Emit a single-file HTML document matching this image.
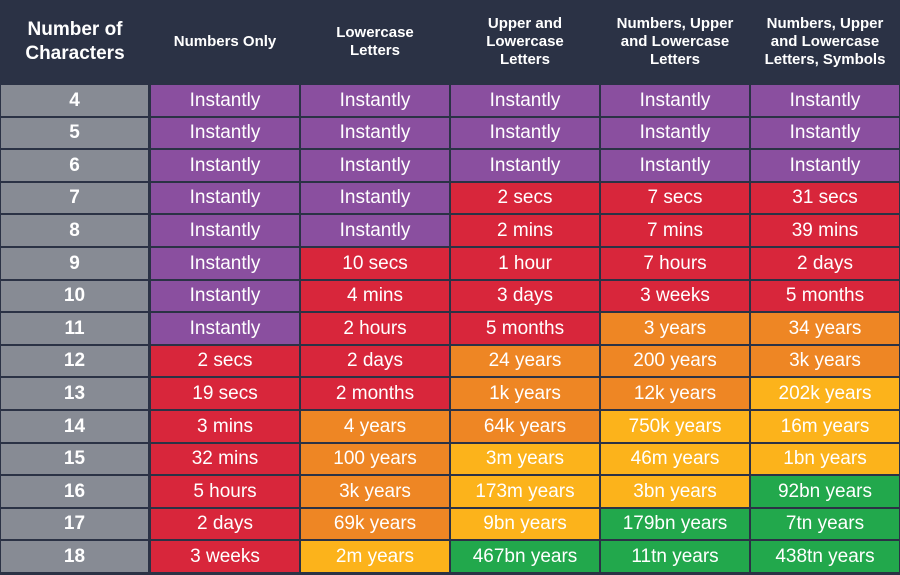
<!DOCTYPE html>
<html><head><meta charset="utf-8"><style>
body{margin:0;background:#2b3245;width:900px;height:575px;overflow:hidden;font-family:"Liberation Sans",sans-serif}
.g{position:absolute;left:0;top:0;width:900px;height:575px}
.h{position:absolute;top:0;height:84px;color:#fff;font-weight:bold;display:flex;align-items:center;justify-content:center;text-align:center;font-size:15px;line-height:18px}
.c{position:absolute;display:flex;align-items:center;justify-content:center;color:#fff;font-size:19px;box-sizing:border-box}
.n{background:#878b94;font-weight:bold}
.P{background:#8a4f9f}.R{background:#d8263b}.O{background:#ee8624}.Y{background:#fcb31b}.G{background:#22a84c}
</style></head><body><div class="g" id="g">
<div class="h" style="left:0;width:150px;font-size:19px;line-height:24px">Number of<br>Characters</div>
<div class="h" style="left:150px;width:150px">Numbers Only</div>
<div class="h" style="left:300px;width:150px">Lowercase<br>Letters</div>
<div class="h" style="left:450px;width:150px">Upper and<br>Lowercase<br>Letters</div>
<div class="h" style="left:600px;width:150px">Numbers, Upper<br>and Lowercase<br>Letters</div>
<div class="h" style="left:750px;width:150px">Numbers, Upper<br>and Lowercase<br>Letters, Symbols</div>
</div>
<script>
var d=[
[4,"P:Instantly","P:Instantly","P:Instantly","P:Instantly","P:Instantly"],
[5,"P:Instantly","P:Instantly","P:Instantly","P:Instantly","P:Instantly"],
[6,"P:Instantly","P:Instantly","P:Instantly","P:Instantly","P:Instantly"],
[7,"P:Instantly","P:Instantly","R:2 secs","R:7 secs","R:31 secs"],
[8,"P:Instantly","P:Instantly","R:2 mins","R:7 mins","R:39 mins"],
[9,"P:Instantly","R:10 secs","R:1 hour","R:7 hours","R:2 days"],
[10,"P:Instantly","R:4 mins","R:3 days","R:3 weeks","R:5 months"],
[11,"P:Instantly","R:2 hours","R:5 months","O:3 years","O:34 years"],
[12,"R:2 secs","R:2 days","O:24 years","O:200 years","O:3k years"],
[13,"R:19 secs","R:2 months","O:1k years","O:12k years","Y:202k years"],
[14,"R:3 mins","O:4 years","O:64k years","Y:750k years","Y:16m years"],
[15,"R:32 mins","O:100 years","Y:3m years","Y:46m years","Y:1bn years"],
[16,"R:5 hours","O:3k years","Y:173m years","Y:3bn years","G:92bn years"],
[17,"R:2 days","O:69k years","Y:9bn years","G:179bn years","G:7tn years"],
[18,"R:3 weeks","Y:2m years","G:467bn years","G:11tn years","G:438tn years"]];
var h="",g=document.getElementById("g");
d.forEach(function(r,i){
 var t=Math.round(84+i*32.6)+1, b=Math.round(84+(i+1)*32.6)-1, ht=b-t;
 h+='<div class="c n" style="left:1px;top:'+t+'px;width:147px;height:'+ht+'px">'+r[0]+'</div>';
 for(var j=1;j<6;j++){var p=r[j].split(":");
  h+='<div class="c '+p[0]+'" style="left:'+(150*j+1)+'px;top:'+t+'px;width:148px;height:'+ht+'px">'+p[1]+'</div>';}
});
g.insertAdjacentHTML("beforeend",h);
</script>
</body></html>
